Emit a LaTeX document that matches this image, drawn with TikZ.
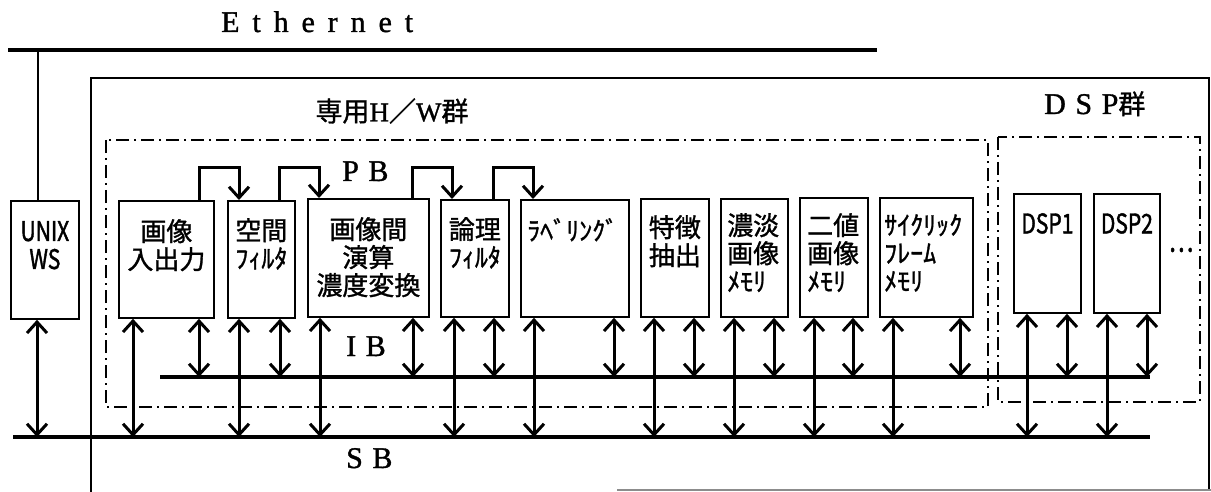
\documentclass[tikz,border=0pt]{standalone}
\usepackage{fontspec}
\usetikzlibrary{arrows.meta,calc}
\newfontfamily\cjk{Noto Sans CJK JP}[FakeBold=1.2]
\newfontfamily\cjknarrow{Noto Sans CJK JP}[FakeStretch=0.78,FakeBold=1.5]
\newfontfamily\wideserif{Liberation Serif}[LetterSpace=32,FakeBold=1.2]
\newfontfamily\ethserif{Liberation Serif}[LetterSpace=43,FakeBold=1.2]
\newfontfamily\lserif{Liberation Serif}[FakeBold=1.2]
\newcommand\busarrow[3]{\path ([xshift=#2]#1.south west) coordinate (ba); \draw[bi] (ba) -- (ba |- #3);}
\newcommand\pblink[4]{\path ([xshift=#2]#1.north west) coordinate (pa) ([xshift=#4]#3.north west) coordinate (pz); \draw[pb] (pa) -- (pa |- pbtop) -| (pz);}
\tikzset{
 blk/.style={draw, line width=1.8pt, inner sep=0pt, anchor=north west},
 jp/.style={font=\cjk\fontsize{26pt}{28pt}\selectfont, inner sep=0pt, align=center, anchor=north},
 jpl/.style={font=\cjk\fontsize{26pt}{28pt}\selectfont, inner sep=0pt, align=left, anchor=north west},
 narrowlbl/.style={font=\cjknarrow\fontsize{27pt}{28pt}\selectfont, inner sep=0pt, align=center, anchor=north},
 wide/.style={font=\wideserif\fontsize{30pt}{32pt}\selectfont, inner sep=0pt, anchor=base west},
 bus/.style={line width=3.4pt},
 bi/.style={line width=3pt, {Straight Barb[length=11pt,width=20pt]}-{Straight Barb[length=11pt,width=20pt]}},
 pb/.style={line width=3pt, -{Straight Barb[length=11pt,width=20pt]}},
 grp/.style={line width=1.4pt, dash pattern=on 13pt off 5pt on 2pt off 5pt},
}
\begin{document}
\begin{tikzpicture}[x=1pt,y=-1pt]
\useasboundingbox[fill=white] (0,0) rectangle (1211,492);
% Ethernet
\coordinate (ethL) at (8,50);
\coordinate (ethR) at (877,50);
\draw[bus] (ethL) -- (ethR);
\node[wide, font=\ethserif\fontsize{30pt}{32pt}\selectfont] (eth) at (221,32) {Ethernet};
% outer box
\draw[line width=1.8pt] (91,492) -- (91,78) -- (1209,78) -- (1209,490);
\draw[line width=1.2pt, black!45] (617,490) -- (1211,490);
% groups
\draw[grp] (106,140) rectangle (988,407);
\draw[grp] (998,137) rectangle (1200,402);
\node[font=\cjk\fontsize{27pt}{28pt}\selectfont, inner sep=0pt] (hwlbl) at (392,111) {専用{\lserif H}／{\lserif W}群};
\node[wide] (dsplbl) at (1044,114) {DSP{\cjk\fontsize{27pt}{28pt}\selectfont 群}};
% boxes
\node[blk, minimum width=68pt, minimum height=118pt] (unix) at (10,200) {};
\node[blk, minimum width=95pt, minimum height=117pt] (io) at (118,200) {};
\node[blk, minimum width=67pt, minimum height=117pt] (sf) at (227,200) {};
\node[blk, minimum width=121pt, minimum height=118pt] (ga) at (307,198) {};
\node[blk, minimum width=68pt, minimum height=117pt] (lf) at (440,199) {};
\node[blk, minimum width=108pt, minimum height=117pt] (lb) at (520,199) {};
\node[blk, minimum width=68pt, minimum height=118pt] (tc) at (640,198) {};
\node[blk, minimum width=67pt, minimum height=118pt] (nt) at (720,198) {};
\node[blk, minimum width=68pt, minimum height=119pt] (nc) at (799,197) {};
\node[blk, minimum width=93pt, minimum height=119pt] (cy) at (879,197) {};
\node[blk, minimum width=67pt, minimum height=119pt] (d1) at (1013,193) {};
\node[blk, minimum width=66pt, minimum height=119pt] (d2) at (1093,193) {};
% labels
\node[narrowlbl] (unixt) at ($(unix.north)+(0,21)$) {UNIX\\WS};
\node[jp] (iot) at ($(io.north)+(0,19)$) {画像\\入出力};
\node[jp] (sft) at ($(sf.north)+(0,18)$) {空間\\ﾌｨﾙﾀ};
\node[jp] (gat) at ($(ga.north)+(0,19)$) {画像間\\演算\\濃度変換};
\node[jp] (lft) at ($(lf.north)+(0,18)$) {論理\\ﾌｨﾙﾀ};
\node[jpl] (lbt) at ($(lb.north west)+(7,19)$) {ﾗﾍﾞﾘﾝｸﾞ};
\node[jp] (tct) at ($(tc.north)+(0,17)$) {特徴\\抽出};
\node[jpl] (ntt) at ($(nt.north west)+(7,15)$) {濃淡\\画像\\ﾒﾓﾘ};
\node[jpl] (nct) at ($(nc.north west)+(8,16)$) {二値\\画像\\ﾒﾓﾘ};
\node[jpl] (cyt) at ($(cy.north west)+(5,17)$) {ｻｲｸﾘｯｸ\\ﾌﾚｰﾑ\\ﾒﾓﾘ};
\node[narrowlbl] (d1t) at ($(d1.north)+(0,20)$) {DSP1};
\node[narrowlbl] (d2t) at ($(d2.north)+(0,20)$) {DSP2};
\node[font=\cjknarrow\fontsize{30pt}{30pt}\selectfont, inner sep=0pt] (more) at (1181,250) {…};
% buses
\coordinate (ibL) at (160,377);
\coordinate (ibR) at (1150,377);
\coordinate (sbL) at (13,437);
\coordinate (sbR) at (1150,437);
\coordinate (pbtop) at (0,168);
\draw[bus] (ibL) -- (ibR);
\draw[bus] (sbL) -- (sbR);
\node[wide] (pbt) at (342,181) {PB};
\node[wide] (ibt) at (346,356) {IB};
\node[wide] (sbt) at (346,468) {SB};
% Ethernet to UNIX WS
\path ([xshift=-7pt]unix.north) coordinate (ux);
\draw[line width=2.4pt] (ux) -- (ux |- ethL);
% PB links
\pblink{io}{81pt}{sf}{12pt}
\pblink{sf}{52pt}{ga}{12pt}
\pblink{ga}{105pt}{lf}{12pt}
\pblink{lf}{53pt}{lb}{13pt}
% bus arrows
\busarrow{unix}{27pt}{sbL}
\busarrow{io}{15pt}{sbL}
\busarrow{io}{81pt}{ibL}
\busarrow{sf}{12pt}{sbL}
\busarrow{sf}{53pt}{ibL}
\busarrow{ga}{13pt}{sbL}
\busarrow{ga}{106pt}{ibL}
\busarrow{lf}{14pt}{sbL}
\busarrow{lf}{54pt}{ibL}
\busarrow{lb}{14pt}{sbL}
\busarrow{lb}{94pt}{ibL}
\busarrow{tc}{14pt}{sbL}
\busarrow{tc}{54pt}{ibL}
\busarrow{nt}{14pt}{sbL}
\busarrow{nt}{54pt}{ibL}
\busarrow{nc}{15pt}{sbL}
\busarrow{nc}{54pt}{ibL}
\busarrow{cy}{14pt}{sbL}
\busarrow{cy}{81pt}{ibL}
\busarrow{d1}{14pt}{sbL}
\busarrow{d1}{54pt}{ibL}
\busarrow{d2}{14pt}{sbL}
\busarrow{d2}{54pt}{ibL}
\end{tikzpicture}
\end{document}
